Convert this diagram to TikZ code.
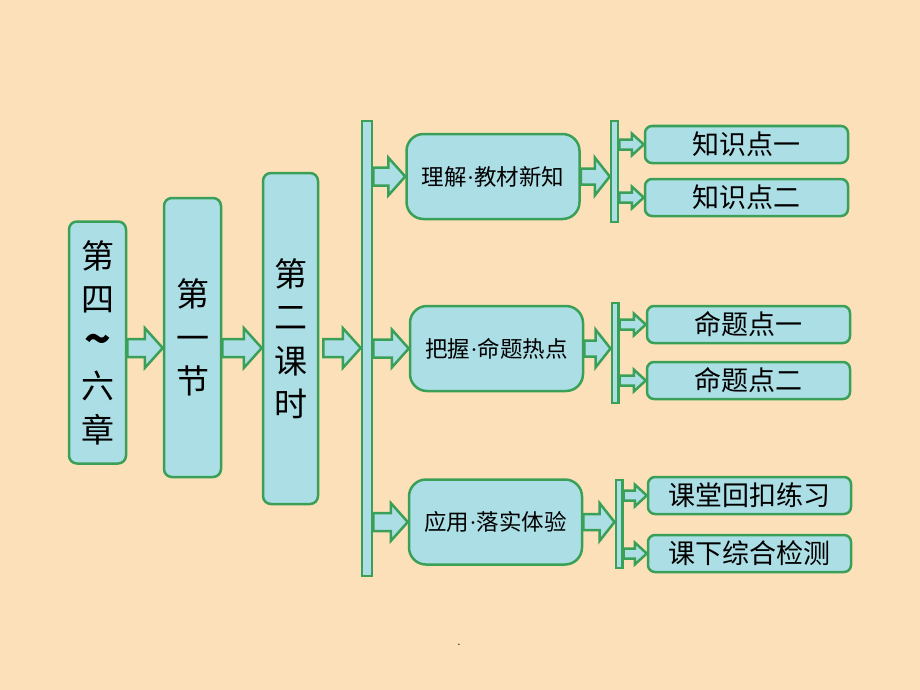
\documentclass[tikz,border=0pt]{standalone}
\usepackage{fontspec}
\newfontfamily\cjk{Noto Sans CJK SC}
\newfontfamily\latinf{Liberation Serif}
\usetikzlibrary{calc}
\definecolor{peachbg}{RGB}{252,224,186}
\definecolor{dropcyan}{RGB}{172,222,230}
\definecolor{leafgreen}{RGB}{58,160,88}

\tikzset{
  tallbox/.style={draw=leafgreen, fill=dropcyan, line width=2.5pt, rounded corners=8pt,
    inner sep=0pt, minimum width=57pt, align=center, font=\cjk\fontsize{33}{43.5}\selectfont},
  topicbox/.style={draw=leafgreen, fill=dropcyan, line width=2.5pt, rounded corners=17pt,
    inner sep=0pt, minimum width=173pt, minimum height=85pt, font=\cjk\fontsize{22.5}{25}\selectfont},
  pointbox/.style={draw=leafgreen, fill=dropcyan, line width=2.5pt, rounded corners=7pt,
    inner sep=0pt, minimum width=203pt, minimum height=37pt, font=\cjk\fontsize{27}{30}\selectfont},
  splitbar/.style={draw=leafgreen, fill=dropcyan, line width=2.5pt, inner sep=0pt, minimum width=7pt},
  arrowblock/.style={draw=leafgreen, fill=dropcyan, line width=2.5pt, line join=miter}
}

% narrow middle dot
\newcommand{\mdot}{{\latinf ·}}

% block arrow: from, to, shaft half height, head half height, head length
\newcommand{\blockarrow}[5]{%
  \draw[arrowblock] let \p1=#1, \p2=#2 in
    (\x1,\y1+#3pt) -- (\x2-#5pt,\y1+#3pt) -- (\x2-#5pt,\y1+#4pt) -- (\x2,\y1)
    -- (\x2-#5pt,\y1-#4pt) -- (\x2-#5pt,\y1-#3pt) -- (\x1,\y1-#3pt) -- cycle;}

\begin{document}
\begin{tikzpicture}[x=1pt, y=-1pt]

  % Background
  \fill[peachbg] (0,0) rectangle (920,690);
  \useasboundingbox (0,0) rectangle (920,690);

  % Chapter, section, lesson
  \node[tallbox, minimum height=242pt] (chap) at (97.5,342.5)
    {第\\四\\{\fontsize{44}{43.5}\selectfont\bfseries\textasciitilde}\\六\\章};
  \node[tallbox, minimum height=279pt] (sect) at (192.5,337.5) {第\\一\\节};
  \node[tallbox, minimum width=55pt, minimum height=331pt] (lesson) at (290.5,338.5) {第\\二\\课\\时};
  \coordinate (lane) at (0,348);

  % Main split bar
  \node[splitbar, minimum width=10pt, minimum height=455pt] (mainbar) at (367,348.5) {};

  % Topics
  \node[topicbox] (t1) at (493,176.5) {理解\mdot 教材新知};
  \node[topicbox] (t2) at (496.5,348.5) {把握\mdot 命题热点};
  \node[topicbox] (t3) at (495.5,522) {应用\mdot 落实体验};

  % Small split bars
  \node[splitbar, minimum height=101pt] (b1) at (614.5,171.5) {};
  \node[splitbar, minimum width=6.5pt, minimum height=100pt] (b2) at (615,353) {};
  \node[splitbar, minimum width=6.5pt, minimum height=88pt] (b3) at (619,524) {};

  % Points
  \node[pointbox] (p11) at (746.5,144.5) {知识点一};
  \node[pointbox] (p12) at (746.5,197.5) {知识点二};
  \node[pointbox] (p21) at (748.5,324.5) {命题点一};
  \node[pointbox] (p22) at (748.5,380.5) {命题点二};
  \node[pointbox] (p31) at (749.5,495.5) {课堂回扣练习};
  \node[pointbox] (p32) at (749.5,553.5) {课下综合检测};

  % Arrows
  \blockarrow{(chap.east |- lane)}{(sect.west |- lane)}{9}{20}{18}
  \blockarrow{(sect.east |- lane)}{(lesson.west |- lane)}{9}{20}{18}
  \blockarrow{($(lesson.east |- lane)+(4pt,0)$)}{(mainbar.west |- lane)}{9}{20}{18}
  \foreach \tpc/\sbr in {t1/b1, t2/b2, t3/b3} {
    \blockarrow{(mainbar.east |- \tpc.center)}{(\tpc.west)}{9}{19}{17}
    \blockarrow{(\tpc.east)}{(\sbr.west |- \tpc.center)}{8}{19}{15}
  }
  \foreach \sbr/\pnt in {b1/p11, b1/p12, b2/p21, b2/p22, b3/p31, b3/p32} {
    \blockarrow{(\sbr.east |- \pnt.center)}{(\pnt.west)}{5}{11}{12}
  }

  \node[font=\fontsize{14}{16}\selectfont] (dot) at (459,645) {.};

\end{tikzpicture}
\end{document}
